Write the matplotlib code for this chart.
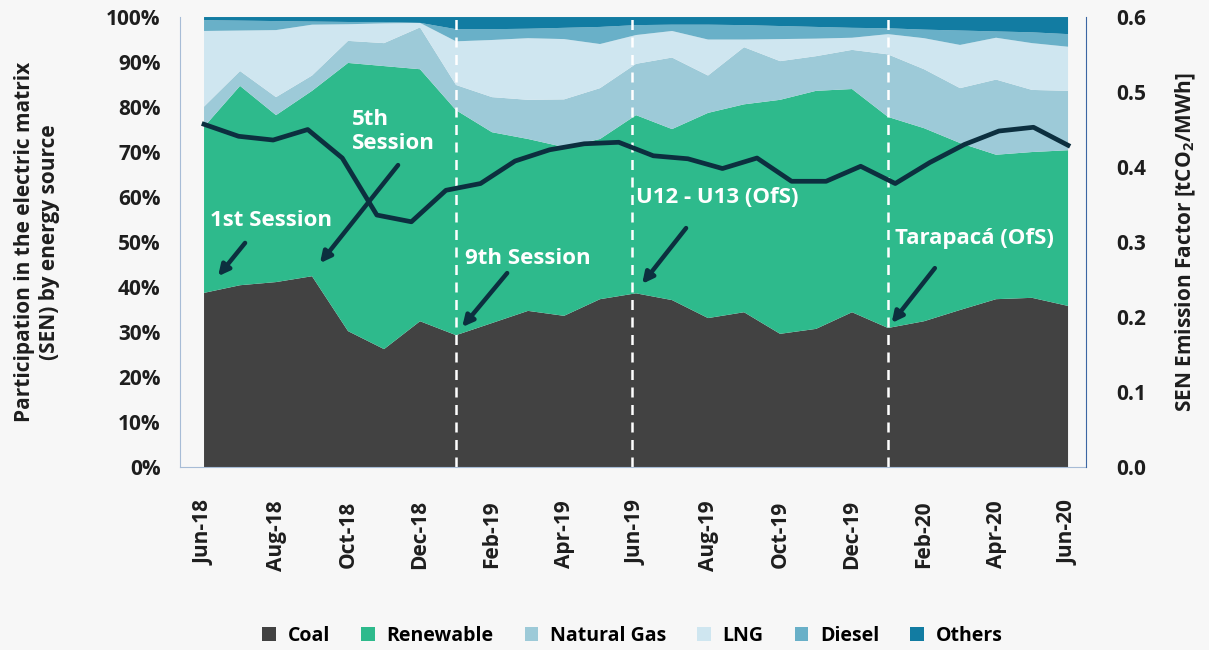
import numpy as np
import matplotlib
matplotlib.use('Agg')
import matplotlib.pyplot as plt
from matplotlib.patches import Patch

plt.rcParams['font.family'] = ['Open Sans', 'DejaVu Sans']
plt.rcParams['font.weight'] = 'bold'
plt.rcParams['axes.labelweight'] = 'bold'
plt.rcParams['mathtext.fontset'] = 'custom'
plt.rcParams['mathtext.rm'] = 'Open Sans:bold'
plt.rcParams['mathtext.default'] = 'rm'

# monthly shares (%) Jun-18 .. Jun-20
coal = [38.7, 40.4, 41.1, 42.4, 30.2, 26.2, 32.4, 29.3, 32.0, 34.7, 33.6, 37.3, 38.6,
        37.1, 33.1, 34.4, 29.6, 30.7, 34.4, 30.9, 32.4, 34.9, 37.3, 37.6, 35.8]
renewable = [36.9, 44.3, 37.1, 41.2, 59.6, 62.9, 56.0, 50.0, 42.4, 38.2, 37.5, 35.6, 39.6,
             38.0, 45.6, 46.2, 52.0, 52.9, 49.6, 46.9, 42.9, 37.1, 32.1, 32.4, 34.6]
natural_gas = [4.5, 3.3, 4.0, 3.4, 4.9, 5.1, 9.3, 5.6, 7.8, 8.7, 10.6, 11.3, 11.4,
               15.9, 8.3, 12.7, 8.6, 7.7, 8.7, 13.9, 13.1, 12.2, 16.7, 13.8, 13.2]
lng = [16.8, 9.0, 14.9, 11.3, 3.7, 4.4, 1.0, 9.7, 12.7, 13.7, 13.4, 9.8, 6.4,
       5.9, 8.0, 1.7, 4.9, 3.9, 2.7, 4.5, 6.9, 9.6, 9.3, 10.4, 9.8]
diesel = [2.4, 2.2, 2.0, 0.7, 0.5, 0.3, 0.0, 2.7, 2.4, 2.1, 2.5, 3.8, 2.2,
          1.4, 3.3, 3.2, 2.9, 2.6, 2.2, 1.3, 1.9, 3.2, 1.4, 2.4, 2.8]
others = [0.7, 0.8, 0.9, 1.0, 1.1, 1.1, 1.3, 2.7, 2.7, 2.6, 2.4, 2.2, 1.8,
          1.7, 1.7, 1.8, 2.0, 2.2, 2.4, 2.5, 2.8, 3.0, 3.2, 3.4, 3.8]

# SEN emission factor [tCO2/MWh]
emission = [0.457, 0.441, 0.436, 0.450, 0.412, 0.336, 0.327, 0.369, 0.378, 0.408, 0.423,
            0.431, 0.433, 0.415, 0.411, 0.398, 0.412, 0.381, 0.381, 0.401, 0.378, 0.406,
            0.430, 0.448, 0.453, 0.429]

tick_labels = ['Jun-18', 'Aug-18', 'Oct-18', 'Dec-18', 'Feb-19', 'Apr-19', 'Jun-19',
               'Aug-19', 'Oct-19', 'Dec-19', 'Feb-20', 'Apr-20', 'Jun-20']

events = ['1st Session', '5th\nSession', '9th Session', 'U12 - U13 (OfS)', 'Tarapacá (OfS)']
event_lines = [7, 11.9, 19]

series = [coal, renewable, natural_gas, lng, diesel, others]
names = ['Coal', 'Renewable', 'Natural Gas', 'LNG', 'Diesel', 'Others']
colors = ['#424242', '#2EBA8C', '#9DCAD8', '#CFE6F0', '#69B0C8', '#127CA2']
bg = '#F7F7F7'
dark = '#0C2F3F'
txt_col = '#1E1E1E'

months = np.arange(len(coal))
t_line = np.linspace(0, len(coal) - 1, len(emission))

fig = plt.figure(figsize=(12.09, 6.5), dpi=100, facecolor=bg)
ax = fig.add_axes([0.1489, 0.2815, 0.7494, 0.6923])
ax.set_facecolor(bg)

ax.stackplot(months, *series, colors=colors, labels=names, linewidth=0)
for xv in event_lines:
    ax.axvline(xv, color='white', lw=1.8, ls=(0, (4, 3)))

ax.set_xlim(-0.667, 24.5)
ax.set_ylim(0, 100)
ax.set_yticks(range(0, 101, 10))
ax.set_yticklabels([f'{v}%' for v in range(0, 101, 10)], fontsize=15, color=txt_col)
ax.set_xticks(range(0, 25, 2))
ax.set_xticklabels(tick_labels, rotation=90, fontsize=15, color=txt_col)
ax.tick_params(axis='both', length=0)
ax.tick_params(axis='y', pad=14)
ax.tick_params(axis='x', pad=24)
ax.set_ylabel('Participation in the electric matrix\n(SEN) by energy source', fontsize=15,
              color=txt_col, fontweight='bold')
ax.yaxis.set_label_coords(-0.133, 0.5)
for s in ['top', 'right']:
    ax.spines[s].set_visible(False)
ax.spines['left'].set_color('#A7BCD6')
ax.spines['bottom'].set_color('#A7BCD6')

ax2 = ax.twinx()
ax2.plot(t_line, emission, color=dark, lw=3.4)
ax2.set_ylim(0, 0.6)
ax2.set_yticks(np.arange(0, 0.61, 0.1))
ax2.set_yticklabels([f'{v:.1f}' for v in np.arange(0, 0.61, 0.1)], fontsize=15, color=txt_col)
ax2.tick_params(axis='y', length=0, pad=22)
ax2.set_ylabel('SEN Emission Factor [tCO$_2$/MWh]', fontsize=15, color=txt_col,
               fontweight='bold')
ax2.yaxis.set_label_coords(1.097, 0.5)
for s in ['top', 'left', 'bottom']:
    ax2.spines[s].set_visible(False)
ax2.spines['right'].set_color('#3C66A3')

# annotations: (text pos, arrow tail, arrow head) in months / %
text_pos = [(0.17, 54.7), (4.1, 74.5), (7.25, 46.4), (12.0, 60.0), (19.2, 50.7)]
arrow_tail = [(1.14, 49.8), (5.39, 67.1), (8.42, 43.1), (13.39, 53.1), (20.3, 44.2)]
arrow_head = [(0.39, 42.4), (3.22, 45.3), (7.17, 31.1), (12.17, 40.7), (19.1, 32.0)]
for txt, tp, tl, hd in zip(events, text_pos, arrow_tail, arrow_head):
    ax2.text(tp[0], tp[1] * 0.006, txt, color='white', fontsize=16, fontweight='bold',
             va='center', ha='left', linespacing=1.2)
    ax2.annotate('', xy=(hd[0], hd[1] * 0.006), xytext=(tl[0], tl[1] * 0.006),
                 arrowprops=dict(arrowstyle='-|>', color=dark, lw=3.2, mutation_scale=16,
                                 shrinkA=0, shrinkB=0))

handles = [Patch(facecolor=c, edgecolor='none') for c in colors]
fig.legend(handles, names, loc='center', bbox_to_anchor=(0.523, 0.022), ncol=6,
           frameon=False, fontsize=14, handlelength=0.7, handleheight=0.7,
           handletextpad=0.6, columnspacing=1.6)

fig.savefig('out.png', dpi=100, facecolor=bg)
